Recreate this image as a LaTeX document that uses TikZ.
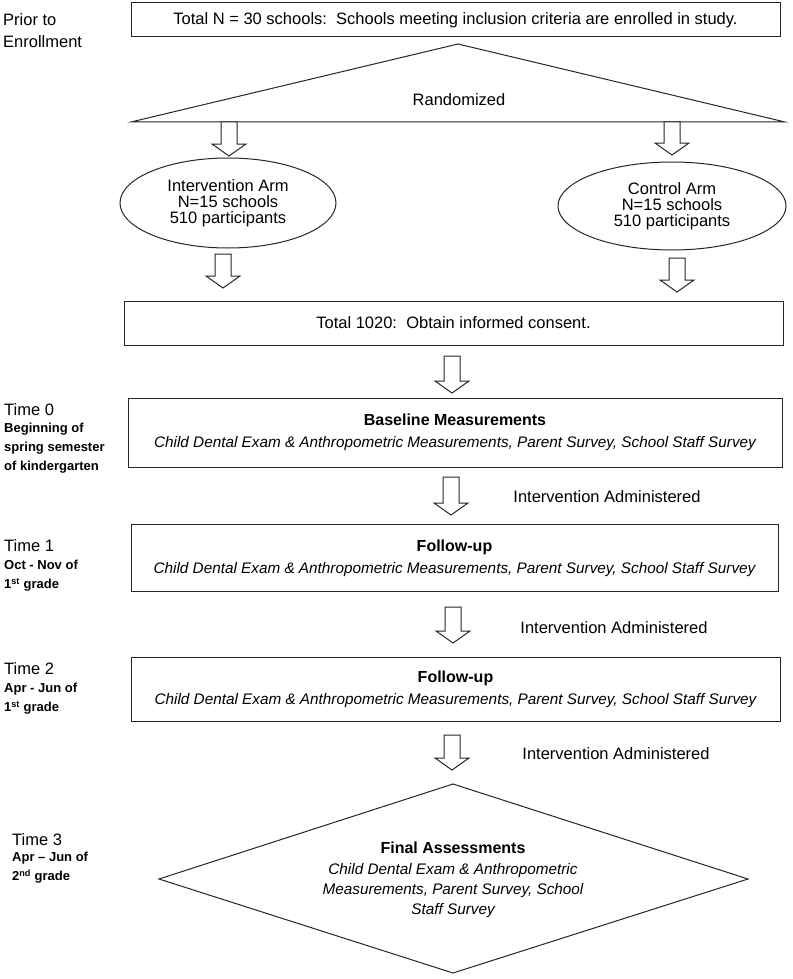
\documentclass[tikz,border=0pt]{standalone}
\usepackage{fontspec}
\setmainfont{Liberation Sans}
\usetikzlibrary{shapes.geometric}
\newcommand{\fmain}{\fontsize{16.5}{16}\selectfont}
\newcommand{\fbold}{\fontsize{16}{18}\selectfont\upshape\bfseries}
\newcommand{\fital}{\fontsize{15.3}{20}\selectfont\itshape}
\newcommand{\fsub}{\fontsize{13}{19}\selectfont\bfseries}
\newcommand{\blockarrow}[3]{%
  \draw[line, fill=white] (#1-8,#2) -- (#1+8,#2) -- (#1+8,#3-12) -- (#1+17,#3-12)
    -- (#1,#3) -- (#1-17,#3-12) -- (#1-8,#3-12) -- cycle;}
\begin{document}
\begin{tikzpicture}[x=1pt,y=-1pt,
  line/.style={draw=black!85, line width=1pt},
  box/.style={line, rectangle, inner sep=0pt, align=center, font=\fital},
  arm/.style={line, ellipse, inner sep=0pt, align=center, font=\fmain},
  plain/.style={inner sep=0pt, font=\fmain, text=black},
  sublab/.style={inner sep=0pt, font=\fsub, align=left, anchor=north west, text=black},
  timelab/.style={inner sep=0pt, font=\fmain, anchor=west, text=black}]
\useasboundingbox (0,0) rectangle (792,979);
\fill[white] (0,0) rectangle (792,979);

% left labels
\node[plain, anchor=west] (prior) at (3,20) {Prior to};
\node[plain, anchor=west] (enrol) at (3,42) {Enrollment};

% top box
\node[line, rectangle, inner sep=0pt, minimum width=649pt, minimum height=34pt, font=\fmain] (top) at (455.5,20)
  {Total N = 30 schools:\ \ Schools meeting inclusion criteria are enrolled in study.};

% randomization triangle
\coordinate (tl) at (131,122);
\coordinate (tt) at (458,44);
\coordinate (tr) at (785,122);
\draw[line] (tl) -- (tt) -- (tr) -- cycle;
\node[plain] (rand) at (459,100) {Randomized};

% arms
\blockarrow{229}{122}{156}
\blockarrow{672}{122}{155}
\node[arm, minimum width=216pt, minimum height=90pt] (iarm) at (228,203)
  {Intervention Arm\\N=15 schools\\510 participants};
\node[arm, minimum width=228pt, minimum height=88pt] (carm) at (672,206)
  {Control Arm\\N=15 schools\\510 participants};
\blockarrow{223}{254}{288}
\blockarrow{677}{258}{292}

% total
\node[line, rectangle, inner sep=0pt, minimum width=659pt, minimum height=44pt, font=\fmain] (total) at (453.5,323)
  {Total 1020:\ \ Obtain informed consent.};
\blockarrow{452}{356}{393}

% baseline
\node[box, minimum width=654pt, minimum height=69pt] (base) at (455,432.5)
  {{\fbold Baseline Measurements}\\[2pt]Child Dental Exam \& Anthropometric Measurements, Parent Survey, School Staff Survey};
\node[timelab] (t0) at (4,410) {Time 0};
\node[sublab] (t0s) at (4,423) {Beginning of\\spring semester\\of kindergarten};

\blockarrow{451}{477}{515}
\node[plain] (int1) at (607,497) {Intervention Administered};

% follow-up 1
\node[box, minimum width=647pt, minimum height=67pt] (fu1) at (454.5,558)
  {{\fbold Follow-up}\\[2pt]Child Dental Exam \& Anthropometric Measurements, Parent Survey, School Staff Survey};
\node[timelab] (t1) at (4,546) {Time 1};
\node[sublab] (t1s) at (4,560) {Oct - Nov of\\1\textsuperscript{st} grade};

\blockarrow{453}{607}{643}
\node[plain] (int2) at (614,628) {Intervention Administered};

% follow-up 2
\node[box, minimum width=649pt, minimum height=64pt] (fu2) at (455.5,689)
  {{\fbold Follow-up}\\[2pt]Child Dental Exam \& Anthropometric Measurements, Parent Survey, School Staff Survey};
\node[timelab] (t2) at (4,669) {Time 2};
\node[sublab] (t2s) at (4,683) {Apr - Jun of\\1\textsuperscript{st} grade};

\blockarrow{452}{735}{770}
\node[plain] (int3) at (616,754) {Intervention Administered};

% final diamond
\coordinate (dl) at (159,879);
\coordinate (dt) at (453,784);
\coordinate (dr) at (748,879);
\coordinate (db) at (453,973);
\draw[line] (dl) -- (dt) -- (dr) -- (db) -- cycle;
\node[inner sep=0pt, align=center, font=\fital] (final) at (453,880)
  {{\fbold Final Assessments}\\[1pt]Child Dental Exam \& Anthropometric\\Measurements, Parent Survey, School\\Staff Survey};
\node[timelab] (t3) at (12,840) {Time 3};
\node[sublab] (t3s) at (12,852) {Apr -- Jun of\\2\textsuperscript{nd} grade};
\end{tikzpicture}
\end{document}
